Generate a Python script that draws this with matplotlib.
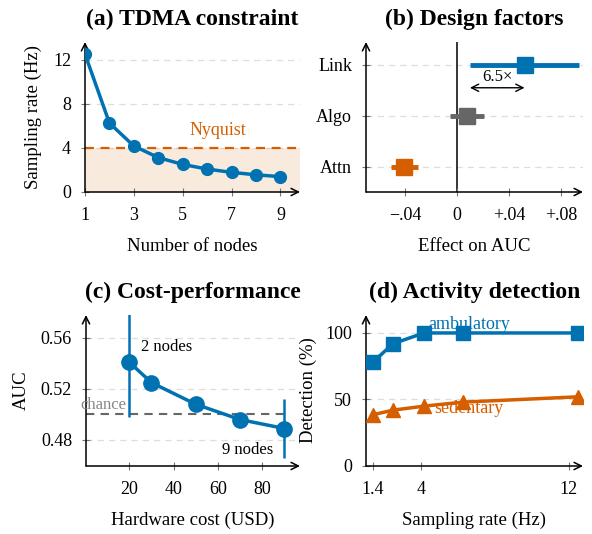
import matplotlib
matplotlib.use("Agg")
import matplotlib.pyplot as plt

plt.rcParams['font.family'] = ['Liberation Serif', 'DejaVu Serif']
plt.rcParams['font.size'] = 13

BLUE = '#0072B2'
ORANGE = '#D55E00'
GRAY = '#666666'

# (a) TDMA constraint
nodes = [1, 2, 3, 4, 5, 6, 7, 8, 9]
rate = [12.5, 6.25, 4.17, 3.12, 2.5, 2.08, 1.78, 1.56, 1.39]
nyquist = 4

# (b) Design factors
factors = ['Attn', 'Algo', 'Link']
effect = [-0.041, 0.008, 0.052]
eff_lo = [-0.051, -0.005, 0.010]
eff_hi = [-0.030, 0.021, 0.094]
fac_colors = [ORANGE, GRAY, BLUE]

# (c) Cost-performance
cost = [20, 30, 50, 70, 90]
auc = [0.541, 0.525, 0.508, 0.496, 0.489]
auc_err = [0.043, 0, 0, 0, 0.023]

# (d) Activity detection
fs = [1.39, 2.5, 4.17, 6.25, 12.5]
ambulatory = [78, 92, 100, 100, 100]
sedentary = [38.5, 42, 45, 48, 52]

fig = plt.figure(figsize=(5.92, 5.34), dpi=100)
W, H = 592, 534
LBL = 13.5
TTL = 17


def make_ax(x0, x1, ytop, ybot):
    return fig.add_axes([x0 / W, 1 - ybot / H, (x1 - x0) / W, (ybot - ytop) / H])


def style(ax):
    for s in ['top', 'right', 'left', 'bottom']:
        ax.spines[s].set_visible(False)
    ax.annotate('', xy=(1, 0), xytext=(0, 0), xycoords='axes fraction',
                arrowprops=dict(arrowstyle='->', lw=1.1, color='black',
                                shrinkA=0, shrinkB=0), annotation_clip=False)
    ax.annotate('', xy=(0, 1), xytext=(0, 0), xycoords='axes fraction',
                arrowprops=dict(arrowstyle='->', lw=1.1, color='black',
                                shrinkA=0, shrinkB=0), annotation_clip=False)
    ax.tick_params(direction='inout', length=6, color='#777777', width=0.8,
                   labelsize=13)
    ax.tick_params(axis='x', pad=8)
    ax.tick_params(axis='y', pad=7)


def hgrid(ax, ys):
    for y in ys:
        ax.axhline(y, color='#dddddd', lw=0.9, ls=(0, (5, 4)), zorder=0)


# ---- (a)
ax = make_ax(85, 300, 42, 192)
style(ax)
ax.set_xlim(1, 9.8)
ax.set_ylim(0, 13.6)
hgrid(ax, [4, 8, 12])
ax.fill_between([1, 9.8], 0, nyquist, color=ORANGE, alpha=0.13, lw=0, zorder=1)
ax.axhline(nyquist, color=ORANGE, lw=1.6, ls=(0, (4, 3)), zorder=2)
ax.text(6.45, 5.6, 'Nyquist', color=ORANGE, fontsize=13, ha='center', va='center')
ax.plot(nodes, rate, '-o', color=BLUE, lw=2.5, ms=8.5, zorder=3)
ax.set_xticks([1, 3, 5, 7, 9])
ax.set_yticks([0, 4, 8, 12])
ax.set_xlabel('Number of nodes', fontsize=LBL, labelpad=10)
ax.set_ylabel('Sampling rate (Hz)', fontsize=LBL, labelpad=8)
ax.set_title('(a) TDMA constraint', fontweight='bold', fontsize=TTL, pad=12)

# ---- (b)
ax = make_ax(366, 583, 42, 192)
style(ax)
ax.set_xlim(-0.07, 0.097)
ax.set_ylim(-0.5, 2.45)
hgrid(ax, [0, 1, 2])
ax.axvline(0, color='black', lw=1.1, zorder=1)
for i in range(len(factors)):
    ax.plot([eff_lo[i], eff_hi[i]], [i, i], color=fac_colors[i], lw=3.5,
            solid_capstyle='butt', zorder=2)
    ax.plot(effect[i], i, 's', color=fac_colors[i], ms=12, zorder=3)
ax.annotate('', xy=(effect[2], 1.55), xytext=(eff_lo[2], 1.55),
            arrowprops=dict(arrowstyle='<->', lw=1.0, color='black',
                            shrinkA=0, shrinkB=0))
ax.text((effect[2] + eff_lo[2]) / 2, 1.6, '6.5×', ha='center', va='bottom',
        fontsize=12)
ax.set_yticks([0, 1, 2])
ax.set_yticklabels(factors)
ax.set_xticks([-0.04, 0, 0.04, 0.08])
ax.set_xticklabels(['−.04', '0', '+.04', '+.08'])
ax.set_xlabel('Effect on AUC', fontsize=LBL, labelpad=10)
ax.set_title('(b) Design factors', fontweight='bold', fontsize=TTL, pad=12)

# ---- (c)
ax = make_ax(86, 300, 315, 466)
style(ax)
ax.set_xlim(0.5, 97)
ax.set_ylim(0.4596, 0.578)
hgrid(ax, [0.48, 0.52, 0.56])
ax.plot([0.5, 90], [0.5, 0.5], color=GRAY, lw=1.5, ls=(0, (4, 3)), zorder=1)
ax.text(-2, 0.5012, 'chance', color='#888888', fontsize=12, ha='left', va='bottom')
ax.errorbar(cost, auc, yerr=auc_err, fmt='-o', color=BLUE, lw=2.5, ms=11,
            elinewidth=1.8, capsize=0, zorder=3)
ax.text(25.5, 0.553, '2 nodes', fontsize=12, ha='left', va='center')
ax.text(85, 0.4725, '9 nodes', fontsize=12, ha='right', va='center')
ax.set_xticks([20, 40, 60, 80])
ax.set_yticks([0.48, 0.52, 0.56])
ax.set_yticklabels(['0.48', '0.52', '0.56'])
ax.set_xlabel('Hardware cost (USD)', fontsize=LBL, labelpad=10)
ax.set_ylabel('AUC', fontsize=LBL, labelpad=8)
ax.set_title('(c) Cost-performance', fontweight='bold', fontsize=TTL, pad=12)

# ---- (d)
ax = make_ax(366, 583, 315, 466)
style(ax)
ax.set_xlim(1.03, 12.76)
ax.set_ylim(0, 113.5)
hgrid(ax, [50, 100])
ax.plot(fs, ambulatory, '-s', color=BLUE, lw=2.5, ms=10, zorder=3)
ax.plot(fs, sedentary, '-^', color=ORANGE, lw=2.5, ms=10, zorder=3)
ax.text(6.6, 106.5, 'ambulatory', color=BLUE, fontsize=13, ha='center', va='center')
ax.text(6.6, 43.5, 'sedentary', color=ORANGE, fontsize=13, ha='center', va='center')
ax.set_xticks([1.4, 4, 12])
ax.set_xticklabels(['1.4', '4', '12'])
ax.set_yticks([0, 50, 100])
ax.set_xlabel('Sampling rate (Hz)', fontsize=LBL, labelpad=10)
ax.set_ylabel('Detection (%)', fontsize=LBL, labelpad=6)
ax.set_title('(d) Activity detection', fontweight='bold', fontsize=TTL, pad=12)

fig.savefig('out.png', dpi=100)
